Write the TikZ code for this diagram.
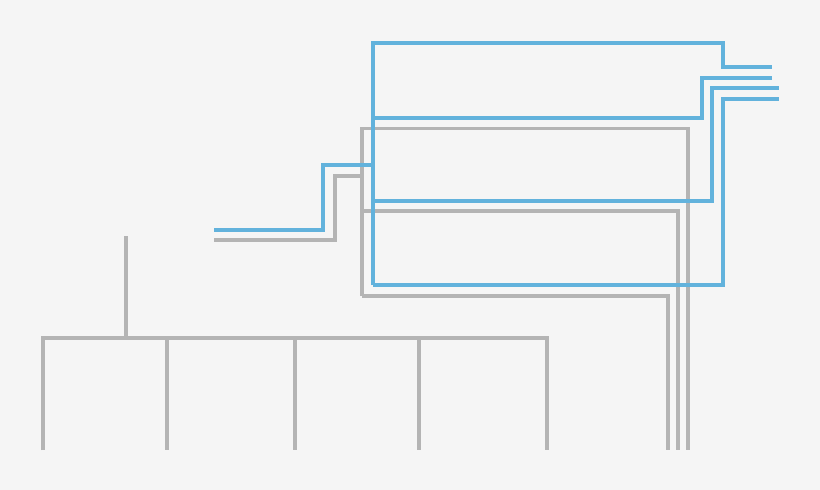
\documentclass[tikz,border=0pt]{standalone}
\definecolor{bgc}{RGB}{245,245,245}
\definecolor{grayc}{RGB}{180,180,180}
\definecolor{bluec}{RGB}{98,178,220}
\begin{document}
\begin{tikzpicture}[x=1pt,y=-1pt,
  grayline/.style={draw=grayc,line width=3.6pt,line join=miter,line cap=butt},
  blueline/.style={draw=bluec,line width=3.8pt,line join=miter,line cap=butt}]
\fill[bgc] (0,0) rectangle (820,490);
\useasboundingbox (0,0) rectangle (820,490);
% tree
\draw[grayline] (126,236) -- (126,338);
\draw[grayline] (43,450) -- (43,338) -- (547,338) -- (547,450);
\foreach \x in {167,295,419} \draw[grayline] (\x,338) -- (\x,450);
% gray bus
\draw[grayline] (362,296) -- (362,128.5) -- (688,128.5) -- (688,450);
\draw[grayline] (362,211) -- (678,211) -- (678,450);
\draw[grayline] (362,296) -- (668,296) -- (668,450);
\draw[grayline] (214,240) -- (335,240) -- (335,176) -- (362,176);
% blue bus
\draw[blueline] (373,285) -- (373,43) -- (723,43) -- (723,67) -- (772,67);
\draw[blueline] (373,118) -- (702,118) -- (702,78) -- (772,78);
\draw[blueline] (373,201) -- (712,201) -- (712,88) -- (779,88);
\draw[blueline] (373,285) -- (723,285) -- (723,99) -- (779,99);
\draw[blueline] (214,230) -- (323,230) -- (323,165) -- (373,165);
\end{tikzpicture}
\end{document}
